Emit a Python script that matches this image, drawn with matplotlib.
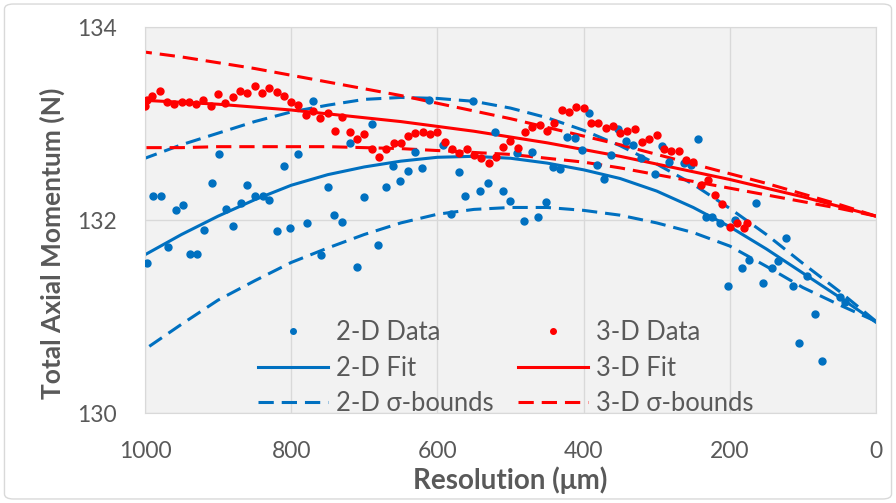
import matplotlib.pyplot as plt
from matplotlib.patches import FancyBboxPatch

plt.rcParams['font.family'] = ['Lato', 'DejaVu Sans']

# 2-D data points (resolution in um, momentum in N)
res_2d = [997, 989, 978, 969, 958, 948, 938, 929, 919, 908, 899, 889, 880, 869, 860,
          850, 839, 830, 819, 810, 802, 791, 778, 770, 759, 750, 741, 730, 720, 710,
          700, 689, 681, 670, 661, 651, 640, 631, 621, 611, 592, 581, 570, 562, 551,
          542, 531, 521, 510, 501, 491, 481, 471, 462, 451, 442, 432, 423, 412, 402,
          393, 382, 372, 363, 353, 342, 332, 321, 302, 293, 283, 263, 253, 243, 232,
          224, 213, 202, 193, 183, 174, 164, 155, 142, 134, 123, 113, 105, 94, 83,
          74, 49, 42]
mom_2d = [131.55, 132.25, 132.25, 131.72, 132.10, 132.16, 131.65, 131.65, 131.90, 132.38,
          132.68, 132.11, 131.94, 132.18, 132.36, 132.25, 132.25, 132.21, 131.89, 132.56,
          131.92, 132.68, 131.97, 133.23, 131.64, 132.34, 132.05, 131.98, 132.80, 131.51,
          132.24, 133.00, 131.74, 132.34, 132.56, 132.40, 132.51, 132.70, 132.54, 133.24,
          132.78, 132.06, 132.50, 132.25, 133.23, 132.30, 132.38, 132.91, 132.30, 132.20,
          132.69, 131.99, 132.70, 132.03, 132.19, 132.55, 132.53, 132.86, 132.85, 132.73,
          133.11, 132.57, 132.42, 132.67, 132.94, 132.82, 132.78, 132.64, 132.48, 132.77,
          132.60, 132.59, 132.57, 132.84, 132.03, 132.03, 131.97, 131.32, 132.00, 131.50,
          131.59, 132.18, 131.35, 131.50, 131.58, 131.81, 131.32, 130.73, 131.42, 131.03,
          130.54, 131.20, 131.15]

# 3-D data points
res_3d = [1000, 997, 990, 980, 970, 960, 950, 940, 930, 920, 910, 900, 890, 880, 870,
          860, 850, 840, 830, 820, 810, 800, 790, 780, 770, 760, 750, 740, 730, 720,
          710, 700, 690, 680, 670, 660, 650, 640, 630, 620, 610, 600, 590, 580, 570,
          560, 550, 540, 530, 520, 510, 500, 490, 480, 470, 460, 450, 440, 430, 420,
          410, 400, 390, 380, 370, 360, 350, 340, 330, 320, 310, 300, 290, 280, 270,
          260, 250, 240, 230, 220, 210, 200, 190, 180, 176]
mom_3d = [133.18, 133.24, 133.28, 133.34, 133.22, 133.20, 133.22, 133.22, 133.20, 133.24,
          133.18, 133.31, 133.21, 133.27, 133.34, 133.32, 133.39, 133.32, 133.37, 133.33,
          133.28, 133.22, 133.19, 133.09, 133.13, 133.06, 133.11, 132.92, 133.07, 132.91,
          132.84, 132.89, 132.74, 132.65, 132.74, 132.80, 132.80, 132.87, 132.90, 132.91,
          132.89, 132.91, 132.81, 132.74, 132.69, 132.74, 132.67, 132.64, 132.59, 132.65,
          132.76, 132.82, 132.75, 132.91, 132.96, 132.98, 132.92, 133.01, 133.14, 133.12,
          133.17, 133.16, 133.01, 133.01, 132.95, 132.97, 132.90, 132.92, 132.94, 132.81,
          132.84, 132.88, 132.74, 132.72, 132.72, 132.62, 132.60, 132.36, 132.41, 132.26,
          132.17, 131.93, 131.97, 131.92, 131.97]

# fits and sigma bounds, read every 50 um
res_fit = [0, 50, 100, 150, 200, 250, 300, 350, 400, 450, 500,
           550, 600, 650, 700, 750, 800, 850, 900, 950, 1000]
fit_2d = [130.94, 131.20, 131.45, 131.70, 131.93, 132.13, 132.30, 132.43, 132.52, 132.59, 132.64,
          132.66, 132.65, 132.61, 132.55, 132.47, 132.36, 132.21, 132.04, 131.85, 131.64]
up_2d = [130.95, 131.26, 131.55, 131.85, 132.12, 132.37, 132.58, 132.77, 132.93, 133.06, 133.16,
         133.23, 133.26, 133.27, 133.25, 133.19, 133.12, 133.02, 132.90, 132.78, 132.64]
lo_2d = [130.95, 131.12, 131.30, 131.52, 131.73, 131.87, 131.97, 132.05, 132.10, 132.13, 132.13,
         132.11, 132.06, 131.97, 131.85, 131.71, 131.56, 131.37, 131.17, 130.92, 130.66]
fit_3d = [132.04, 132.14, 132.24, 132.33, 132.42, 132.50, 132.58, 132.66, 132.73, 132.80, 132.86,
          132.92, 132.97, 133.02, 133.06, 133.10, 133.14, 133.17, 133.20, 133.22, 133.24]
up_3d = [132.04, 132.16, 132.27, 132.38, 132.48, 132.58, 132.68, 132.78, 132.87, 132.96, 133.05,
         133.13, 133.21, 133.29, 133.36, 133.43, 133.50, 133.57, 133.63, 133.69, 133.74]
lo_3d = [132.04, 132.12, 132.19, 132.26, 132.33, 132.40, 132.47, 132.54, 132.60, 132.64, 132.68,
         132.70, 132.72, 132.74, 132.75, 132.76, 132.76, 132.76, 132.76, 132.75, 132.75]

blue = '#0070C0'
red = '#FF0000'
grey = '#595959'
dash = (5, 2.6)

fig = plt.figure(figsize=(8.96, 5.03), dpi=100)
fig.patches.append(FancyBboxPatch((0.005, 0.008), 0.99, 0.984, boxstyle='round,pad=0,rounding_size=0.01',
                                  transform=fig.transFigure, facecolor='none', edgecolor='#D9D9D9',
                                  lw=1, zorder=-1))
ax = fig.add_axes([0.1618, 0.1789, 0.8159, 0.7674])
ax.set_facecolor('#F2F2F2')

ax.plot(res_2d, mom_2d, 'o', color=blue, ms=5, label='2-D Data', zorder=3)
ax.plot(res_fit, fit_2d, '-', color=blue, lw=2.2, label='2-D Fit', zorder=2)
ax.plot(res_fit, up_2d, '--', color=blue, lw=2.2, dashes=dash, label='2-D σ-bounds', zorder=2)
ax.plot(res_fit, lo_2d, '--', color=blue, lw=2.2, dashes=dash, zorder=2)
ax.plot(res_3d, mom_3d, 'o', color=red, ms=5, label='3-D Data', zorder=4)
ax.plot(res_fit, fit_3d, '-', color=red, lw=2.2, label='3-D Fit', zorder=2)
ax.plot(res_fit, up_3d, '--', color=red, lw=2.2, dashes=dash, label='3-D σ-bounds', zorder=2)
ax.plot(res_fit, lo_3d, '--', color=red, lw=2.2, dashes=dash, zorder=2)

ax.set_xlim(1000, 0)
ax.set_ylim(130, 134)
ax.set_xticks([1000, 800, 600, 400, 200, 0])
ax.set_yticks([130, 132, 134])
ax.grid(True, color='#D9D9D9', lw=1)
ax.set_axisbelow(True)
for s in ax.spines.values():
    s.set_color('#D9D9D9')
ax.tick_params(length=0, labelsize=16.5, labelcolor=grey)
ax.tick_params(axis='y', pad=20)
ax.tick_params(axis='x', pad=20)

ax.set_xlabel('Resolution (μm)', fontsize=20, fontweight='bold', color=grey, labelpad=3)
ax.set_ylabel('Total Axial Momentum (N)', fontsize=19, fontweight='bold', color=grey)
ax.yaxis.set_label_coords(-0.11, 0.44)

h, l = ax.get_legend_handles_labels()
leg = ax.legend(h, l, ncol=2, loc='upper left', bbox_to_anchor=(0.155, 0.24), frameon=False,
                fontsize=18.4, numpoints=1, markerscale=0.8, handlelength=2.74, handletextpad=0.31,
                columnspacing=0.94, labelspacing=0.4, borderpad=0, borderaxespad=0)
for t in leg.get_texts():
    t.set_color(grey)

plt.savefig('out.png', dpi=100)
